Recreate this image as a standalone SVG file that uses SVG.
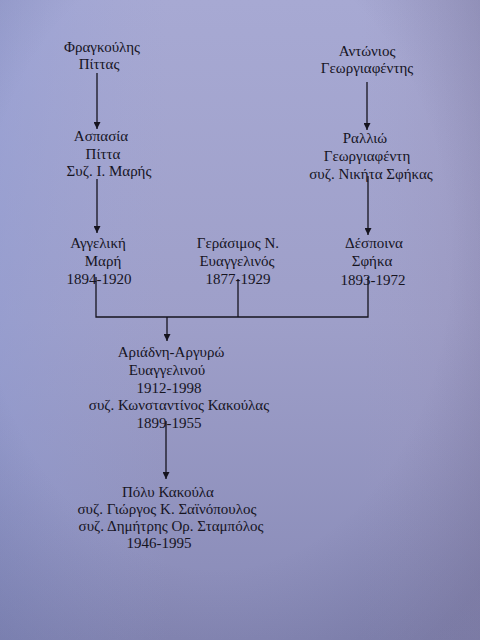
<svg xmlns="http://www.w3.org/2000/svg" width="480" height="640" viewBox="0 0 480 640">
<defs>
<linearGradient id="bg" x1="0" y1="0" x2="0" y2="1">
<stop offset="0" stop-color="#a7a9d3"/>
<stop offset="0.5" stop-color="#9e9fc9"/>
<stop offset="1" stop-color="#888ab7"/>
</linearGradient>
<linearGradient id="side" x1="0" y1="0" x2="1" y2="0">
<stop offset="0" stop-color="#8d9bd6" stop-opacity="0.4"/>
<stop offset="0.35" stop-color="#9aa2d6" stop-opacity="0"/>
<stop offset="0.75" stop-color="#a09ac0" stop-opacity="0"/>
<stop offset="1" stop-color="#938cb2" stop-opacity="0.35"/>
</linearGradient>
<radialGradient id="vig" cx="0.45" cy="0.4" r="0.75">
<stop offset="0.65" stop-color="#3a3a60" stop-opacity="0"/>
<stop offset="1" stop-color="#3a3a60" stop-opacity="0.2"/>
</radialGradient>
<marker id="ah" viewBox="0 0 10 10" refX="10" refY="5" markerWidth="9" markerHeight="7" markerUnits="userSpaceOnUse" orient="auto">
<path d="M0,0 L10,5 L0,10 z" fill="#16141f"/>
</marker>
<style>
text{font-family:"Liberation Serif","Times New Roman",serif;font-size:15px;fill:#16141f;text-anchor:middle}
.ln{stroke:#16141f;stroke-width:1.3;fill:none}
.ar{marker-end:url(#ah)}
</style>
</defs>
<rect width="480" height="640" fill="url(#bg)"/>
<rect width="480" height="640" fill="url(#side)"/>
<rect width="480" height="640" fill="url(#vig)"/>

<g id="connectors">
<line class="ln ar" x1="97" y1="73" x2="97" y2="129"/>
<line class="ln ar" x1="97" y1="179" x2="97" y2="233"/>
<line class="ln ar" x1="367" y1="82" x2="367" y2="130"/>
<line class="ln ar" x1="368" y1="176" x2="368" y2="235"/>
<polyline class="ln" points="96,277 96,317 368,317 368,277"/>
<line class="ln" x1="238" y1="279" x2="238" y2="317"/>
<line class="ln ar" x1="167" y1="317" x2="167" y2="341"/>
<line class="ln ar" x1="166" y1="421" x2="166" y2="479"/>
</g>

<g id="frangoulis">
<text x="102" y="52">Φραγκούλης</text>
<text x="99" y="69">Πίττας</text>
</g>
<g id="antonios">
<text x="367" y="56">Αντώνιος</text>
<text x="367" y="73">Γεωργιαφέντης</text>
</g>
<g id="aspasia">
<text x="101" y="141">Ασπασία</text>
<text x="103" y="159">Πίττα</text>
<text x="109" y="176">Συζ. Ι. Μαρής</text>
</g>
<g id="rallio">
<text x="365" y="143">Ραλλιώ</text>
<text x="367" y="161">Γεωργιαφέντη</text>
<text x="371" y="179">συζ. Νικήτα Σφήκας</text>
</g>
<g id="angeliki">
<text x="98" y="248">Αγγελική</text>
<text x="103" y="266">Μαρή</text>
<text x="99" y="284">1894-1920</text>
</g>
<g id="gerasimos">
<text x="238" y="248">Γεράσιμος Ν.</text>
<text x="237" y="266">Ευαγγελινός</text>
<text x="238" y="284">1877-1929</text>
</g>
<g id="despoina">
<text x="374" y="248">Δέσποινα</text>
<text x="372" y="266">Σφήκα</text>
<text x="373" y="285">1893-1972</text>
</g>
<g id="ariadni">
<text x="171" y="357">Αριάδνη-Αργυρώ</text>
<text x="167" y="375">Ευαγγελινού</text>
<text x="169" y="393">1912-1998</text>
<text x="179" y="410">συζ. Κωνσταντίνος Κακούλας</text>
<text x="169" y="428">1899-1955</text>
</g>
<g id="poly">
<text x="168" y="497">Πόλυ Κακούλα</text>
<text x="167" y="514">συζ. Γιώργος Κ. Σαϊνόπουλος</text>
<text x="171" y="531">συζ. Δημήτρης Ορ. Σταμπόλος</text>
<text x="159" y="548">1946-1995</text>
</g>
</svg>
